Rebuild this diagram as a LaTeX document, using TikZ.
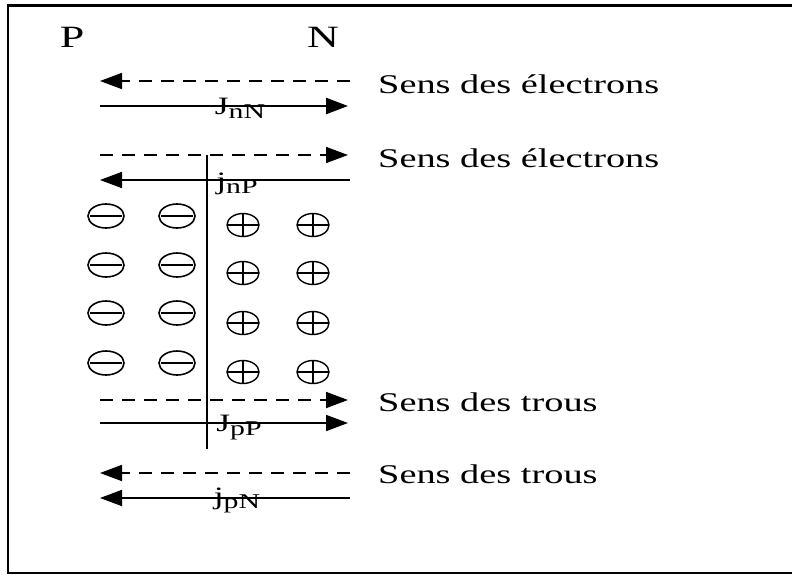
\documentclass[tikz,border=0pt]{standalone}
\usepackage{fontspec}
\setmainfont{Liberation Serif}
\usetikzlibrary{arrows.meta}
% horizontally widened text
\newcommand\widetext[1]{\scalebox{1.42}[1]{#1}}
\newcommand\cursub[2]{#1\raisebox{-4pt}{\fontsize{21}{22}\selectfont #2}}
\begin{document}
\begin{tikzpicture}[x=1pt,y=-1pt,
  flow/.style={line width=1.8pt,-{Triangle[length=22pt,width=16pt]}},
  dashflow/.style={flow,dash pattern=on 13pt off 9pt},
  side/.style={inner sep=0pt,anchor=base,font=\fontsize{31}{34}\selectfont},
  lbl/.style={inner sep=0pt,anchor=base west,font=\fontsize{27}{30}\selectfont},
  cur/.style={inner sep=0pt,anchor=base,font=\fontsize{25}{28}\selectfont},
  negion/.pic={
    \draw[line width=1.6pt] (0,0) ellipse [x radius=18, y radius=12];
    \draw[line width=1.2pt] (-16,0) -- (16,0);},
  posion/.pic={
    \draw[line width=1.4pt] (0,0) ellipse [x radius=16, y radius=11.5];
    \draw[line width=1.2pt] (-16,0) -- (16,0) (0,-11.5) -- (0,11.5);}
]
\useasboundingbox (0,0) rectangle (792,575);

% frame (open on the right)
\draw[line width=3pt] (792,6) -- (8,6);
\draw[line width=2pt] (8,4.5) -- (8,573) -- (792,573);

% sides of the junction
\node[side] (p) at (72,48) {\widetext{P}};
\node[side] (n) at (323,48) {\widetext{N}};

% end points of the flow arrows
\coordinate (a1l) at (100,81);  \coordinate (a1r) at (350,81);
\coordinate (b1l) at (100,106); \coordinate (b1r) at (348,106);
\coordinate (a2l) at (100,155); \coordinate (a2r) at (348,155);
\coordinate (b2l) at (100,180); \coordinate (b2r) at (350,180);
\coordinate (a3l) at (100,400); \coordinate (a3r) at (348,400);
\coordinate (b3l) at (100,423); \coordinate (b3r) at (348,423);
\coordinate (a4l) at (100,473); \coordinate (a4r) at (350,473);
\coordinate (b4l) at (100,498); \coordinate (b4r) at (350,498);

% metallurgical junction
\coordinate (jt) at (207,155);
\coordinate (jb) at (207,449);
\draw[line width=1.8pt] (jt) -- (jb);

% electron flows
\draw[dashflow] (a1r) -- (a1l);
\draw[flow, line width=2.4pt] (b1l) -- (b1r);
\draw[dashflow] (a2l) -- (a2r);
\draw[flow] (b2r) -- (b2l);

% hole flows
\draw[dashflow] (a3l) -- (a3r);
\draw[flow] (b3l) -- (b3r);
\draw[dashflow] (a4r) -- (a4l);
\draw[flow] (b4r) -- (b4l);

% current labels
\node[cur] (jnn) at (240,114) {\widetext{\cursub{J}{nN}}};
\node[cur] (jnp) at (237,189) {\widetext{\cursub{j}{nP}}};
\node[cur] (jpp) at (239,431) {\widetext{\cursub{J}{pP}}};
\node[cur] (jpn) at (237,504) {\widetext{\cursub{j}{pN}}};

% direction labels
\node[lbl] (s1) at (378,94)  {\widetext{Sens des électrons}};
\node[lbl] (s2) at (378,167) {\widetext{Sens des électrons}};
\node[lbl] (s3) at (378,411) {\widetext{Sens des trous}};
\node[lbl] (s4) at (378,483) {\widetext{Sens des trous}};

% fixed ions of the space-charge region
\foreach \y in {216,265,313,363} {
  \pic at (106,\y) {negion};
  \pic at (177,\y) {negion};
}
\foreach \y in {225,273,323,372} {
  \pic at (243,\y) {posion};
  \pic at (313,\y) {posion};
}
\end{tikzpicture}
\end{document}
